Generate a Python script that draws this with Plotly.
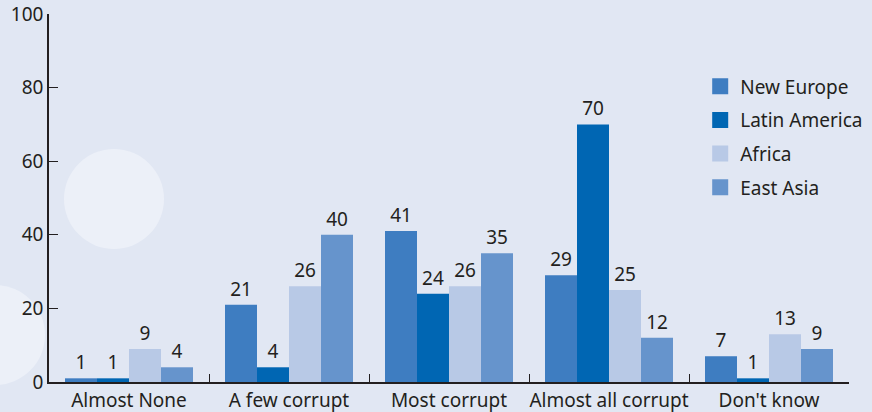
import plotly.graph_objects as go

categories = ["Almost None", "A few corrupt", "Most corrupt", "Almost all corrupt", "Don't know"]
series_names = ["New Europe", "Latin America", "Africa", "East Asia"]
new_europe = [1, 21, 41, 29, 7]
latin_america = [1, 4, 24, 70, 1]
africa = [9, 26, 26, 25, 13]
east_asia = [4, 40, 35, 12, 9]
colors = ["#3e7dc1", "#0066b3", "#b8c9e6", "#6694cc"]

FONT = "Noto Sans, Open Sans, sans-serif"
TXT = "#231f20"
FS = 19

fig = go.Figure()
for name, vals, col in zip(series_names, [new_europe, latin_america, africa, east_asia], colors):
    fig.add_trace(go.Bar(
        x=categories, y=vals, name=name, marker=dict(color=col, line=dict(width=0)),
        text=vals, textposition="outside", textfont=dict(size=FS, color=TXT, family=FONT),
        cliponaxis=False, showlegend=False,
    ))
# legend entries (square markers)
for name, col in zip(series_names, colors):
    fig.add_trace(go.Scatter(
        x=[None], y=[None], mode="markers", name=name, legendgroup=name,
        marker=dict(symbol="square", size=19, color=col, line=dict(width=0)),
        showlegend=True,
    ))

fig.update_layout(
    width=872, height=412,
    margin=dict(l=49, r=23, t=14, b=30, autoexpand=False),
    paper_bgcolor="#e1e7f3", plot_bgcolor="rgba(0,0,0,0)",
    barmode="group", bargap=0.2, bargroupgap=0,
    font=dict(family=FONT, size=FS, color=TXT),
    showlegend=True,
    legend=dict(x=0.814, y=0.855, xanchor="left", yanchor="top", bgcolor="rgba(0,0,0,0)",
                font=dict(size=FS, color=TXT), itemwidth=30, tracegroupgap=6),
    xaxis=dict(showline=True, linecolor=TXT, linewidth=1.5, ticks="inside", tickson="boundaries",
               ticklen=8, tickcolor=TXT, showgrid=False, tickangle=0, automargin=False,
               tickfont=dict(size=FS, color=TXT)),
    yaxis=dict(range=[0, 100], dtick=20, showline=True, linecolor=TXT, linewidth=1.5,
               ticks="inside", ticklen=9, tickcolor=TXT, showgrid=False, zeroline=False,
               automargin=False, tickfont=dict(size=FS, color=TXT)),
    shapes=[
        dict(type="circle", xref="paper", yref="paper", layer="below", line=dict(width=0),
             fillcolor="#ecf0f8",
             x0=(64 - 49) / 800, x1=(164 - 49) / 800,
             y0=(382 - 249) / 368, y1=(382 - 149) / 368),
        dict(type="circle", xref="paper", yref="paper", layer="below", line=dict(width=0),
             fillcolor="#ecf0f8",
             x0=(-55 - 49) / 800, x1=(45 - 49) / 800,
             y0=(382 - 385) / 368, y1=(382 - 285) / 368),
    ],
)

fig.write_html("out.html", config={"displayModeBar": False},
               post_script="document.body.style.margin='0';document.body.style.overflow='hidden';")
